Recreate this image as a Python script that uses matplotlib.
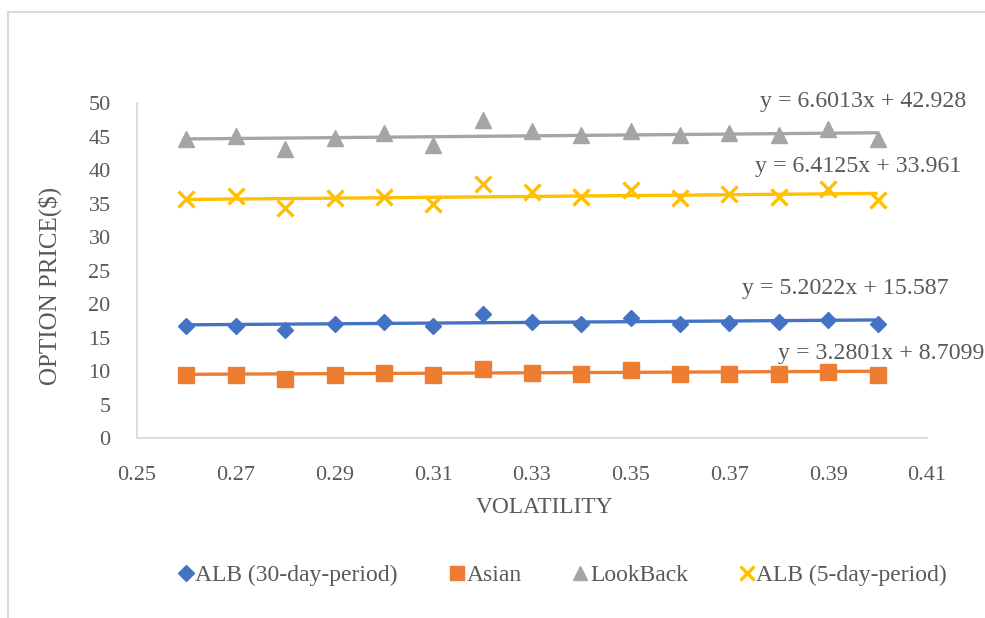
import numpy as np
import matplotlib
matplotlib.use("Agg")
import matplotlib.pyplot as plt
from matplotlib.patches import Rectangle
from matplotlib.lines import Line2D

plt.rcParams["font.family"] = ["Liberation Serif", "DejaVu Serif"]

# Данные
volatility = [0.26, 0.27, 0.28, 0.29, 0.30, 0.31, 0.32, 0.33,
              0.34, 0.35, 0.36, 0.37, 0.38, 0.39, 0.40]
alb_30 = [16.8, 16.8, 16.1, 17.0, 17.3, 16.8, 18.5, 17.4,
          17.1, 17.9, 17.1, 17.2, 17.4, 17.7, 17.0]
asian = [9.4, 9.4, 8.8, 9.4, 9.75, 9.4, 10.3, 9.75,
         9.55, 10.15, 9.55, 9.55, 9.65, 9.9, 9.5]
lookback = [44.6, 45.1, 43.2, 44.8, 45.5, 43.8, 47.4, 45.9,
            45.3, 45.9, 45.2, 45.5, 45.3, 46.2, 44.7]
alb_5 = [35.7, 36.2, 34.3, 35.9, 36.0, 35.0, 38.0, 36.7,
         36.0, 37.0, 35.9, 36.4, 36.0, 37.2, 35.5]

series_names = ["ALB (30-day-period)", "Asian", "LookBack", "ALB (5-day-period)"]
slopes = [5.2022, 3.2801, 6.6013, 6.4125]
intercepts = [15.587, 8.7099, 42.928, 33.961]
eq_labels = ["y = 5.2022x + 15.587", "y = 3.2801x + 8.7099",
             "y = 6.6013x + 42.928", "y = 6.4125x + 33.961"]

x_ticks = [0.25, 0.27, 0.29, 0.31, 0.33, 0.35, 0.37, 0.39, 0.41]
y_ticks = [0, 5, 10, 15, 20, 25, 30, 35, 40, 45, 50]

colors = ["#4472C4", "#ED7D31", "#A5A5A5", "#FFC000"]
markers = ["D", "s", "^", "x"]
msizes = [8.5, 11, 11.5, 11.5]
# позиции подписей уравнений (в координатах данных)
eq_pos = [(0.3725, 22.3), (0.3798, 12.7), (0.3761, 50.2), (0.3751, 40.6)]

TXT = "#595959"
GRID = "#D9D9D9"

fig = plt.figure(figsize=(9.85, 6.18), dpi=100)
ax = fig.add_axes([0.1391, 0.2905, 0.802, 0.5428])

all_series = [alb_30, asian, lookback, alb_5]
x = np.array(volatility)
for vals, c, m, ms, k, b in zip(all_series, colors, markers, msizes, slopes, intercepts):
    # линия тренда
    ax.plot([x.min(), x.max()], [k * x.min() + b, k * x.max() + b],
            color=c, lw=2.4, zorder=2, solid_capstyle="butt")
    if m == "x":
        ax.plot(x, vals, ls="none", marker=m, ms=ms, mew=2.4, color=c, zorder=3)
    else:
        ax.plot(x, vals, ls="none", marker=m, ms=ms, color=c, mec=c, zorder=3)

for (ex, ey), lab in zip(eq_pos, eq_labels):
    ax.text(ex, ey, lab, fontsize=17.2, color=TXT, ha="left", va="center",
            clip_on=False, zorder=4)

ax.set_xlim(0.25, 0.41)
ax.set_ylim(0, 50)
ax.set_xticks(x_ticks)
ax.set_xticklabels([f"{t:.2f}" for t in x_ticks])
ax.set_yticks(y_ticks)
ax.tick_params(axis="both", length=0, labelsize=16, labelcolor=TXT)
ax.tick_params(axis="y", pad=19)
ax.tick_params(axis="x", pad=20)

for s in ["top", "right"]:
    ax.spines[s].set_visible(False)
for s in ["left", "bottom"]:
    ax.spines[s].set_color(GRID)
    ax.spines[s].set_linewidth(1.3)

ax.set_xlabel("VOLATILITY", fontsize=16.8, color=TXT, va="center")
ax.xaxis.set_label_coords(0.5165, -0.207)
ax.set_ylabel("OPTION PRICE($)", fontsize=18, color=TXT, va="center")
ax.yaxis.set_label_coords(-0.110, 0.4545)

handles = []
for c, m, name in zip(colors, markers, series_names):
    if m == "x":
        h = Line2D([], [], ls="none", marker=m, ms=10.5, mew=2.4, color=c, label=name)
    else:
        h = Line2D([], [], ls="none", marker=m, ms=9.5 if m != "D" else 8,
                   color=c, mec=c, label=name)
    handles.append(h)
leg = fig.legend(handles=handles, loc="center", bbox_to_anchor=(563 / 985, 1 - 575 / 618),
                 ncol=4, frameon=False, fontsize=17, handlelength=0.6,
                 handletextpad=0.1, columnspacing=2.2, labelcolor=TXT)

# рамка вокруг диаграммы
fig.patches.append(Rectangle((8 / 985, -0.2), 1.2, 1.2 - 12 / 618,
                             transform=fig.transFigure, fill=False,
                             edgecolor=GRID, lw=1.5))

fig.savefig("out.png", dpi=100)
